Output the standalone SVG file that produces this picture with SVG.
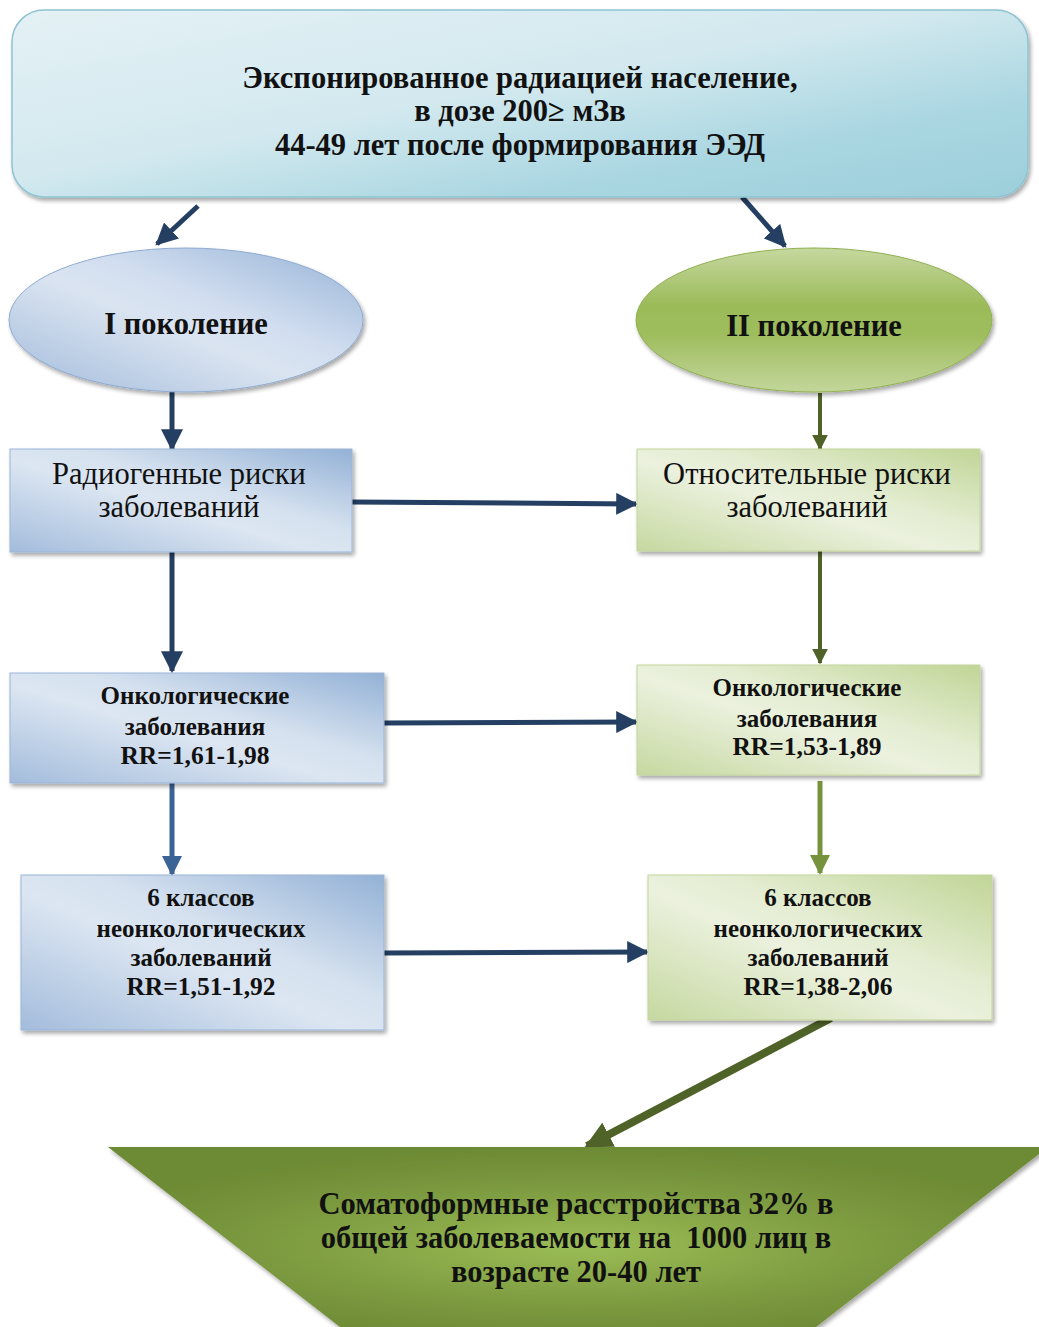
<svg xmlns="http://www.w3.org/2000/svg" width="1039" height="1327" viewBox="0 0 1039 1327">
<defs>
<style>
.t{font-family:"Liberation Serif","Times New Roman",serif;fill:#111;text-anchor:middle}
.b{font-weight:bold}
.navy{stroke:#243f62;stroke-width:5;fill:none}
.olive{stroke:#4f6228;stroke-width:4;fill:none}
.lgreen{stroke:#76923c;stroke-width:5;fill:none}
.steel{stroke:#3b6395;stroke-width:5;fill:none}
</style>
<filter id="sh" x="-5%" y="-5%" width="115%" height="120%">
<feGaussianBlur in="SourceAlpha" stdDeviation="2"/>
<feOffset dx="2" dy="3" result="o"/>
<feComponentTransfer><feFuncA type="linear" slope="0.35"/></feComponentTransfer>
<feMerge><feMergeNode/><feMergeNode in="SourceGraphic"/></feMerge>
</filter>
<linearGradient id="gTop" x1="0" y1="0" x2="1" y2="1">
<stop offset="0" stop-color="#e4f1f5"/>
<stop offset="0.45" stop-color="#d3e9ef"/>
<stop offset="0.75" stop-color="#a9d6e1"/>
<stop offset="1" stop-color="#9ccfdb"/>
</linearGradient>
<linearGradient id="gBlue" x1="0" y1="1" x2="1" y2="0">
<stop offset="0" stop-color="#a3bcdc"/>
<stop offset="0.45" stop-color="#dce6f2"/>
<stop offset="0.6" stop-color="#d5e1ef"/>
<stop offset="1" stop-color="#93b1d6"/>
</linearGradient>
<linearGradient id="gGreen" x1="0" y1="1" x2="1" y2="0">
<stop offset="0" stop-color="#c6d8a0"/>
<stop offset="0.45" stop-color="#ebf1de"/>
<stop offset="0.6" stop-color="#e4edd2"/>
<stop offset="1" stop-color="#c1d597"/>
</linearGradient>
<linearGradient id="gEllB" x1="0" y1="1" x2="1" y2="0">
<stop offset="0" stop-color="#a2bbdb"/>
<stop offset="0.45" stop-color="#dae4f1"/>
<stop offset="0.6" stop-color="#d2def0"/>
<stop offset="1" stop-color="#94b2d6"/>
</linearGradient>
<linearGradient id="gEllG" x1="0" y1="0" x2="0" y2="1">
<stop offset="0" stop-color="#c6d89f"/>
<stop offset="0.4" stop-color="#9bbb59"/>
<stop offset="0.6" stop-color="#9ebd5d"/>
<stop offset="1" stop-color="#c3d69b"/>
</linearGradient>
<radialGradient id="gTrap" cx="0.5" cy="0.55" r="0.55">
<stop offset="0" stop-color="#9bbd55"/>
<stop offset="0.6" stop-color="#7c9a40"/>
<stop offset="1" stop-color="#6d8a34"/>
</radialGradient>
<marker id="aNavy" viewBox="0 0 10 10" refX="9" refY="5" markerWidth="4.4" markerHeight="4.4" orient="auto" markerUnits="strokeWidth">
<path d="M0,0 L10,5 L0,10 z" fill="#243f62"/>
</marker>
<marker id="aOlive" viewBox="0 0 10 10" refX="9" refY="5" markerWidth="4" markerHeight="4" orient="auto" markerUnits="strokeWidth">
<path d="M0,0 L10,5 L0,10 z" fill="#4f6228"/>
</marker>
<marker id="aLGreen" viewBox="0 0 10 10" refX="9" refY="5" markerWidth="4" markerHeight="4" orient="auto" markerUnits="strokeWidth">
<path d="M0,0 L10,5 L0,10 z" fill="#76923c"/>
</marker>
<marker id="aSteel" viewBox="0 0 10 10" refX="9" refY="5" markerWidth="4" markerHeight="4" orient="auto" markerUnits="strokeWidth">
<path d="M0,0 L10,5 L0,10 z" fill="#3b6395"/>
</marker>
<marker id="aBig" viewBox="0 0 10 10" refX="9" refY="5" markerWidth="3.4" markerHeight="3.4" orient="auto" markerUnits="strokeWidth">
<path d="M0,0 L10,5 L0,10 z" fill="#4f6228"/>
</marker>
</defs>
<rect width="1039" height="1327" fill="#fff"/>

<g id="connectors">
<line class="navy" x1="198" y1="206" x2="157" y2="244" marker-end="url(#aNavy)"/>
<line class="navy" x1="742" y1="197" x2="785" y2="246" marker-end="url(#aNavy)"/>
<line class="navy" x1="172" y1="392" x2="172" y2="449" stroke-width="4" marker-end="url(#aNavy)"/>
<line class="olive" x1="820" y1="393" x2="820" y2="449" marker-end="url(#aOlive)"/>
<line class="navy" x1="352" y1="502" x2="636" y2="504" marker-end="url(#aNavy)"/>
<line class="navy" x1="172" y1="552" x2="172" y2="671" stroke-width="4" marker-end="url(#aNavy)"/>
<line class="olive" x1="820" y1="551" x2="820" y2="663" marker-end="url(#aOlive)"/>
<line class="navy" x1="384" y1="723" x2="636" y2="722" marker-end="url(#aNavy)"/>
<line class="steel" x1="172" y1="783" x2="172" y2="874" marker-end="url(#aSteel)"/>
<line class="lgreen" x1="820" y1="781" x2="820" y2="873" marker-end="url(#aLGreen)"/>
<line class="navy" x1="384" y1="953" x2="647" y2="952" marker-end="url(#aNavy)"/>
<line stroke="#4f6228" stroke-width="8" x1="831" y1="1018" x2="587" y2="1146" marker-end="url(#aBig)"/>
</g>

<g id="top">
<rect x="12" y="10" width="1016" height="187" rx="32" fill="url(#gTop)" stroke="#8fc3d2" stroke-width="1.5" filter="url(#sh)"/>
<text class="t b" font-size="30.5"><tspan x="520" y="88">Экспонированное радиацией население,</tspan><tspan x="520" y="121">в дозе 200≥ мЗв</tspan><tspan x="520" y="155">44-49 лет после формирования ЭЭД</tspan></text>
</g>

<g id="gen1">
<ellipse cx="186" cy="320" rx="177" ry="72" fill="url(#gEllB)" stroke="#8eaad0" stroke-width="1" filter="url(#sh)"/>
<text class="t b" font-size="30.5" x="186" y="334">I поколение</text>
</g>

<g id="gen2">
<ellipse cx="814" cy="320" rx="178" ry="72" fill="url(#gEllG)" stroke="#8fb050" stroke-width="1" filter="url(#sh)"/>
<text class="t b" font-size="30.5" x="814" y="336">II поколение</text>
</g>

<g id="radio">
<rect x="10" y="449" width="342" height="103" fill="url(#gBlue)" stroke="#9ab5d8" stroke-width="1" filter="url(#sh)"/>
<text class="t" font-size="30.5"><tspan x="179" y="484">Радиогенные риски</tspan><tspan x="179" y="517">заболеваний</tspan></text>
</g>

<g id="rel">
<rect x="637" y="449" width="343" height="102" fill="url(#gGreen)" stroke="#c3d69b" stroke-width="1" filter="url(#sh)"/>
<text class="t" font-size="30.5"><tspan x="807" y="484">Относительные риски</tspan><tspan x="807" y="517">заболеваний</tspan></text>
</g>

<g id="onco1">
<rect x="10" y="673" width="374" height="110" fill="url(#gBlue)" stroke="#9ab5d8" stroke-width="1" filter="url(#sh)"/>
<text class="t b" font-size="25"><tspan x="195" y="704">Онкологические</tspan><tspan x="195" y="735">заболевания</tspan></text>
<text class="t b" font-size="25.5" x="195" y="764">RR=1,61-1,98</text>
</g>

<g id="onco2">
<rect x="637" y="665" width="343" height="110" fill="url(#gGreen)" stroke="#c3d69b" stroke-width="1" filter="url(#sh)"/>
<text class="t b" font-size="25"><tspan x="807" y="696">Онкологические</tspan><tspan x="807" y="727">заболевания</tspan></text>
<text class="t b" font-size="25.5" x="807" y="755">RR=1,53-1,89</text>
</g>

<g id="nononco1">
<rect x="21" y="875" width="363" height="155" fill="url(#gBlue)" stroke="#9ab5d8" stroke-width="1" filter="url(#sh)"/>
<text class="t b" font-size="25"><tspan x="201" y="906">6 классов</tspan><tspan x="201" y="937">неонкологических</tspan><tspan x="201" y="966">заболеваний</tspan></text>
<text class="t b" font-size="25.5" x="201" y="995">RR=1,51-1,92</text>
</g>

<g id="nononco2">
<rect x="648" y="875" width="344" height="145" fill="url(#gGreen)" stroke="#c3d69b" stroke-width="1" filter="url(#sh)"/>
<text class="t b" font-size="25"><tspan x="818" y="906">6 классов</tspan><tspan x="818" y="937">неонкологических</tspan><tspan x="818" y="966">заболеваний</tspan></text>
<text class="t b" font-size="25.5" x="818" y="995">RR=1,38-2,06</text>
</g>

<g id="somato">
<polygon points="108,1147 1048,1147 816,1327 340,1327" fill="url(#gTrap)" filter="url(#sh)"/>
<text class="t b" font-size="30.5"><tspan x="576" y="1214">Соматоформные расстройства 32% в</tspan><tspan x="576" y="1248" xml:space="preserve">общей заболеваемости на  1000 лиц в</tspan><tspan x="576" y="1282">возрасте 20-40 лет</tspan></text>
</g>
</svg>
